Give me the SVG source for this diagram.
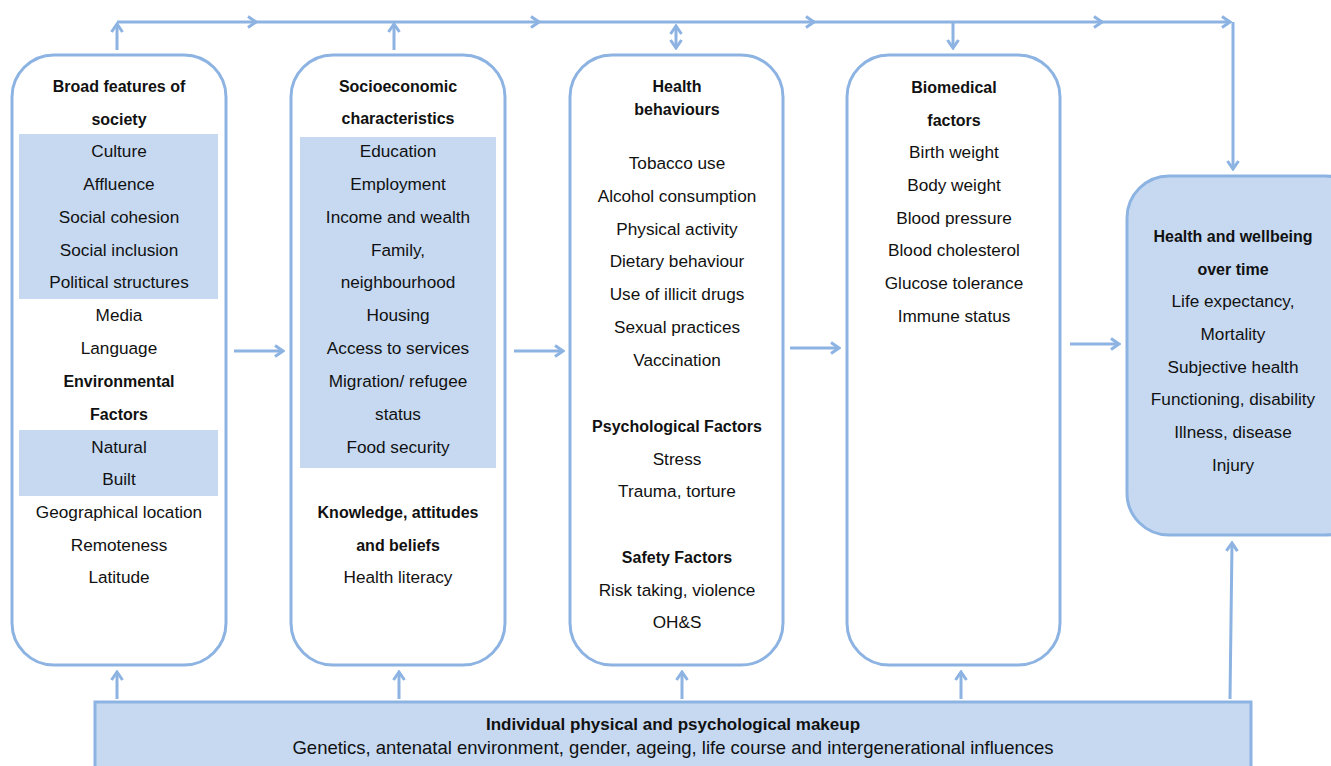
<svg xmlns="http://www.w3.org/2000/svg" width="1331" height="766" viewBox="0 0 1331 766">
<defs>
<style>
.box{fill:#ffffff;stroke:#8DB3E2;stroke-width:3}
.fbox{fill:#C6D9F1;stroke:#8DB3E2;stroke-width:3}
.shade{fill:#C6D9F1;stroke:none}
.c{fill:none;stroke:#8DB3E2;stroke-width:3}
text{font-family:"Liberation Sans",Arial,sans-serif;fill:#111;text-anchor:middle}
.r{font-size:17.2px}
.b{font-size:16px;font-weight:bold}
.bb{font-size:17px;font-weight:bold}
.rb{font-size:18.5px}
</style>
<marker id="ah" viewBox="-10 -7 12 14" refX="0" refY="0" markerWidth="12" markerHeight="14" markerUnits="userSpaceOnUse" orient="auto-start-reverse">
<path d="M-8,-5.5 L0,0 L-8,5.5" fill="none" stroke="#8DB3E2" stroke-width="3"/>
</marker>
</defs>
<g id="connectors">
<line class="c" x1="117" y1="22" x2="256" y2="22" marker-end="url(#ah)"/>
<line class="c" x1="256" y1="22" x2="539" y2="22" marker-end="url(#ah)"/>
<line class="c" x1="539" y1="22" x2="814" y2="22" marker-end="url(#ah)"/>
<line class="c" x1="814" y1="22" x2="1102" y2="22" marker-end="url(#ah)"/>
<line class="c" x1="1102" y1="22" x2="1230" y2="22" marker-end="url(#ah)"/>
<line class="c" x1="1233" y1="22" x2="1233" y2="169" marker-end="url(#ah)"/>
<line class="c" x1="117" y1="50" x2="117" y2="24" marker-end="url(#ah)"/>
<line class="c" x1="394" y1="50" x2="394" y2="24" marker-end="url(#ah)"/>
<line class="c" x1="676" y1="26" x2="676" y2="48" marker-start="url(#ah)" marker-end="url(#ah)"/>
<line class="c" x1="953" y1="22" x2="953" y2="48" marker-end="url(#ah)"/>
<line class="c" x1="234" y1="351" x2="283" y2="351" marker-end="url(#ah)"/>
<line class="c" x1="514" y1="351" x2="563" y2="351" marker-end="url(#ah)"/>
<line class="c" x1="790" y1="348" x2="839" y2="348" marker-end="url(#ah)"/>
<line class="c" x1="1070" y1="344" x2="1119" y2="344" marker-end="url(#ah)"/>
<line class="c" x1="117" y1="699" x2="117" y2="672" marker-end="url(#ah)"/>
<line class="c" x1="399" y1="699" x2="399" y2="672" marker-end="url(#ah)"/>
<line class="c" x1="682" y1="699" x2="682" y2="672" marker-end="url(#ah)"/>
<line class="c" x1="961" y1="699" x2="961" y2="672" marker-end="url(#ah)"/>
<line class="c" x1="1230" y1="699" x2="1232" y2="543" marker-end="url(#ah)"/>
</g>
<g id="broad-features">
<rect class="box" x="12" y="55" width="214" height="610" rx="42"/>
<rect class="shade" x="19" y="134" width="199" height="165"/>
<rect class="shade" x="19" y="430" width="199" height="66"/>
<text class="b" x="119" y="92">Broad features of</text>
<text class="b" x="119" y="125">society</text>
<text class="r" x="119" y="157">Culture</text>
<text class="r" x="119" y="190">Affluence</text>
<text class="r" x="119" y="223">Social cohesion</text>
<text class="r" x="119" y="256">Social inclusion</text>
<text class="r" x="119" y="288">Political structures</text>
<text class="r" x="119" y="321">Media</text>
<text class="r" x="119" y="354">Language</text>
<text class="b" x="119" y="387">Environmental</text>
<text class="b" x="119" y="420">Factors</text>
<text class="r" x="119" y="453">Natural</text>
<text class="r" x="119" y="485">Built</text>
<text class="r" x="119" y="518">Geographical location</text>
<text class="r" x="119" y="551">Remoteness</text>
<text class="r" x="119" y="583">Latitude</text>
</g>
<g id="socioeconomic">
<rect class="box" x="291" y="55" width="214" height="610" rx="42"/>
<rect class="shade" x="300" y="137" width="196" height="331"/>
<text class="b" x="398" y="92">Socioeconomic</text>
<text class="b" x="398" y="124">characteristics</text>
<text class="r" x="398" y="157">Education</text>
<text class="r" x="398" y="190">Employment</text>
<text class="r" x="398" y="223">Income and wealth</text>
<text class="r" x="398" y="256">Family,</text>
<text class="r" x="398" y="288">neighbourhood</text>
<text class="r" x="398" y="321">Housing</text>
<text class="r" x="398" y="354">Access to services</text>
<text class="r" x="398" y="387">Migration/ refugee</text>
<text class="r" x="398" y="420">status</text>
<text class="r" x="398" y="453">Food security</text>
<text class="b" x="398" y="518">Knowledge, attitudes</text>
<text class="b" x="398" y="551">and beliefs</text>
<text class="r" x="398" y="583">Health literacy</text>
</g>
<g id="health-behaviours">
<rect class="box" x="570" y="55" width="213" height="610" rx="42"/>
<text class="b" x="677" y="92">Health</text>
<text class="b" x="677" y="115">behaviours</text>
<text class="r" x="677" y="169">Tobacco use</text>
<text class="r" x="677" y="202">Alcohol consumption</text>
<text class="r" x="677" y="235">Physical activity</text>
<text class="r" x="677" y="267">Dietary behaviour</text>
<text class="r" x="677" y="300">Use of illicit drugs</text>
<text class="r" x="677" y="333">Sexual practices</text>
<text class="r" x="677" y="366">Vaccination</text>
<text class="b" x="677" y="432">Psychological Factors</text>
<text class="r" x="677" y="465">Stress</text>
<text class="r" x="677" y="497">Trauma, torture</text>
<text class="b" x="677" y="563">Safety Factors</text>
<text class="r" x="677" y="596">Risk taking, violence</text>
<text class="r" x="677" y="628">OH&amp;S</text>
</g>
<g id="biomedical">
<rect class="box" x="847" y="55" width="213" height="610" rx="42"/>
<text class="b" x="954" y="93">Biomedical</text>
<text class="b" x="954" y="126">factors</text>
<text class="r" x="954" y="158">Birth weight</text>
<text class="r" x="954" y="191">Body weight</text>
<text class="r" x="954" y="224">Blood pressure</text>
<text class="r" x="954" y="256">Blood cholesterol</text>
<text class="r" x="954" y="289">Glucose tolerance</text>
<text class="r" x="954" y="322">Immune status</text>
</g>
<g id="health-wellbeing">
<rect class="fbox" x="1127" y="176" width="240" height="359" rx="42"/>
<text class="b" x="1233" y="242">Health and wellbeing</text>
<text class="b" x="1233" y="275">over time</text>
<text class="r" x="1233" y="307">Life expectancy,</text>
<text class="r" x="1233" y="340">Mortality</text>
<text class="r" x="1233" y="373">Subjective health</text>
<text class="r" x="1233" y="405">Functioning, disability</text>
<text class="r" x="1233" y="438">Illness, disease</text>
<text class="r" x="1233" y="471">Injury</text>
</g>
<g id="individual-makeup">
<rect class="fbox" x="95" y="702" width="1156" height="80"/>
<text class="bb" x="673" y="730">Individual physical and psychological makeup</text>
<text class="rb" x="673" y="754">Genetics, antenatal environment, gender, ageing, life course and intergenerational influences</text>
</g>
</svg>
